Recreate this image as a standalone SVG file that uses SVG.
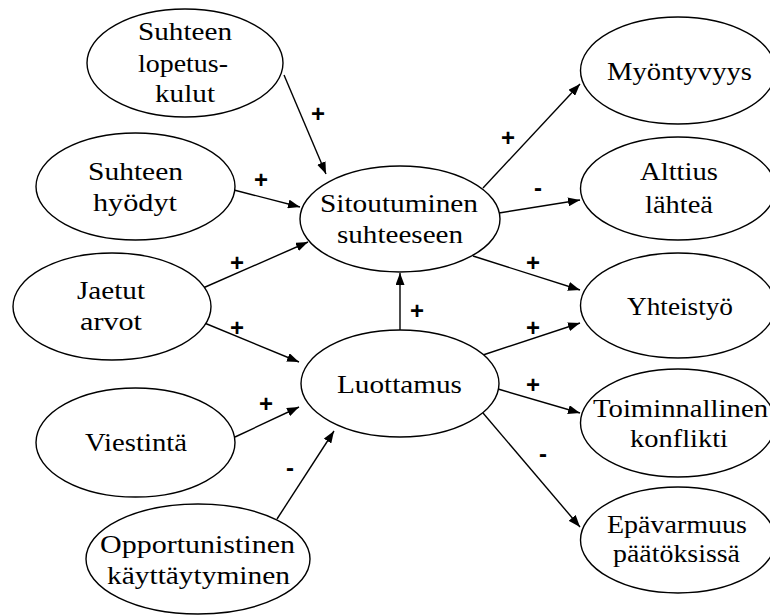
<svg xmlns="http://www.w3.org/2000/svg" width="770" height="615" viewBox="0 0 770 615">
  <style>
    .node ellipse { fill: #ffffff; stroke: #000000; stroke-width: 1.4; }
    .node text { font-family: "Liberation Serif", "Times New Roman", serif; font-size: 26px; fill: #000000; text-anchor: middle; }
    #connectors line { stroke: #000000; stroke-width: 1.4; marker-end: url(#arrow); }
    .sign { font-family: "Liberation Sans", Arial, sans-serif; font-size: 24px; font-weight: bold; fill: #000000; text-anchor: middle; }
  </style>
  <defs>
    <marker id="arrow" markerUnits="userSpaceOnUse" markerWidth="13" markerHeight="9" refX="12" refY="4.5" orient="auto">
      <path d="M0,0 L12,4.5 L0,9 z" fill="#000000"/>
    </marker>
  </defs>
  <rect width="770" height="615" fill="#ffffff"/>

  <g id="connectors">
    <line x1="284" y1="75" x2="326" y2="174"/>
    <line x1="234" y1="190" x2="300" y2="207"/>
    <line x1="203" y1="288" x2="308" y2="242"/>
    <line x1="202" y1="322" x2="299" y2="362"/>
    <line x1="235" y1="437" x2="299" y2="407"/>
    <line x1="277" y1="519" x2="334" y2="431"/>
    <line x1="400" y1="330" x2="400" y2="273"/>
    <line x1="483" y1="188" x2="580" y2="84"/>
    <line x1="499" y1="213" x2="580" y2="200"/>
    <line x1="473" y1="256" x2="580" y2="290"/>
    <line x1="483" y1="355" x2="580" y2="323"/>
    <line x1="498" y1="389" x2="580" y2="413"/>
    <line x1="483" y1="413" x2="580" y2="527"/>
  </g>

  <g id="signs">
    <text class="sign" x="318" y="122">+</text>
    <text class="sign" x="261" y="188">+</text>
    <text class="sign" x="237" y="271">+</text>
    <text class="sign" x="237" y="336">+</text>
    <text class="sign" x="266" y="412">+</text>
    <text class="sign" x="290" y="476">-</text>
    <text class="sign" x="417" y="319">+</text>
    <text class="sign" x="508" y="146">+</text>
    <text class="sign" x="538" y="196">-</text>
    <text class="sign" x="533" y="271">+</text>
    <text class="sign" x="533" y="336">+</text>
    <text class="sign" x="533" y="393">+</text>
    <text class="sign" x="543" y="462">-</text>
  </g>

  <g id="lopetuskulut" class="node">
    <ellipse cx="185" cy="63" rx="98" ry="54"/>
    <text x="185" y="40" textLength="94" lengthAdjust="spacingAndGlyphs">Suhteen</text>
    <text x="183" y="72" textLength="90" lengthAdjust="spacingAndGlyphs">lopetus-</text>
    <text x="185" y="102" textLength="60" lengthAdjust="spacingAndGlyphs">kulut</text>
  </g>

  <g id="hyodyt" class="node">
    <ellipse cx="135.5" cy="186.5" rx="99.5" ry="53.5"/>
    <text x="135.5" y="180" textLength="95" lengthAdjust="spacingAndGlyphs">Suhteen</text>
    <text x="135" y="211" textLength="84" lengthAdjust="spacingAndGlyphs">hyödyt</text>
  </g>

  <g id="jaetutarvot" class="node">
    <ellipse cx="112" cy="306.5" rx="99" ry="53.5"/>
    <text x="111" y="299" textLength="68" lengthAdjust="spacingAndGlyphs">Jaetut</text>
    <text x="111" y="330" textLength="62" lengthAdjust="spacingAndGlyphs">arvot</text>
  </g>

  <g id="viestinta" class="node">
    <ellipse cx="135.5" cy="442.5" rx="99.5" ry="54.5"/>
    <text x="136" y="451" textLength="102" lengthAdjust="spacingAndGlyphs">Viestintä</text>
  </g>

  <g id="opportunistinen" class="node">
    <ellipse cx="198" cy="559" rx="112" ry="55"/>
    <text x="197.5" y="553" textLength="195" lengthAdjust="spacingAndGlyphs">Opportunistinen</text>
    <text x="198.5" y="584" textLength="183" lengthAdjust="spacingAndGlyphs">käyttäytyminen</text>
  </g>

  <g id="sitoutuminen" class="node">
    <ellipse cx="400" cy="219" rx="100" ry="53"/>
    <text x="399" y="212" textLength="158" lengthAdjust="spacingAndGlyphs">Sitoutuminen</text>
    <text x="400" y="243" textLength="126" lengthAdjust="spacingAndGlyphs">suhteeseen</text>
  </g>

  <g id="luottamus" class="node">
    <ellipse cx="400" cy="383.5" rx="99" ry="53.5"/>
    <text x="399.5" y="393" textLength="125" lengthAdjust="spacingAndGlyphs">Luottamus</text>
  </g>

  <g id="myontyvyys" class="node">
    <ellipse cx="678" cy="70.5" rx="97.5" ry="53.5"/>
    <text x="679.5" y="80" textLength="145" lengthAdjust="spacingAndGlyphs">Myöntyvyys</text>
  </g>

  <g id="alttius" class="node">
    <ellipse cx="678" cy="188.5" rx="97.5" ry="51.5"/>
    <text x="679" y="180" textLength="78" lengthAdjust="spacingAndGlyphs">Alttius</text>
    <text x="679" y="213" textLength="68" lengthAdjust="spacingAndGlyphs">lähteä</text>
  </g>

  <g id="yhteistyo" class="node">
    <ellipse cx="678" cy="305.5" rx="97.5" ry="52.5"/>
    <text x="680" y="315" textLength="106" lengthAdjust="spacingAndGlyphs">Yhteistyö</text>
  </g>

  <g id="toiminnallinen" class="node">
    <ellipse cx="678" cy="423" rx="97.5" ry="54"/>
    <text x="680.5" y="417" textLength="175" lengthAdjust="spacingAndGlyphs">Toiminnallinen</text>
    <text x="679" y="447" textLength="98" lengthAdjust="spacingAndGlyphs">konflikti</text>
  </g>

  <g id="epavarmuus" class="node">
    <ellipse cx="678" cy="540" rx="97.5" ry="53"/>
    <text x="677" y="533" textLength="140" lengthAdjust="spacingAndGlyphs">Epävarmuus</text>
    <text x="676.5" y="562" textLength="127" lengthAdjust="spacingAndGlyphs">päätöksissä</text>
  </g>
</svg>
